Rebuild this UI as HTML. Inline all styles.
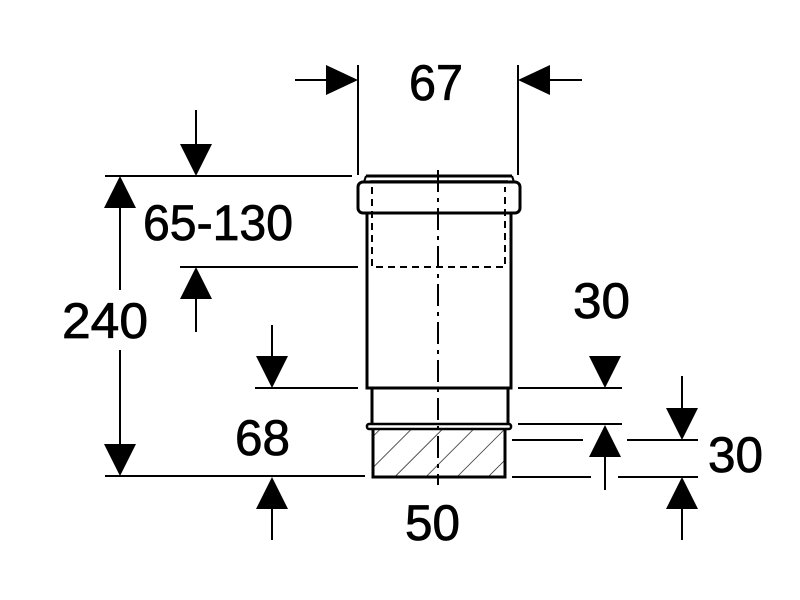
<!DOCTYPE html>
<html><head><meta charset="utf-8"><style>html,body{margin:0;padding:0;background:#fff}svg{display:block}</style></head>
<body>
<svg width="800" height="600" viewBox="0 0 800 600" xmlns="http://www.w3.org/2000/svg">
<defs>
<pattern id="h" width="22" height="22" patternUnits="userSpaceOnUse" patternTransform="rotate(45)">
<line x1="0" y1="0" x2="0" y2="22" stroke="#000" stroke-width="1.3"/>
</pattern>
</defs>
<g stroke="#000" stroke-width="2" fill="none">
<line x1="358" y1="65" x2="358" y2="175"/>
<line x1="518" y1="65" x2="518" y2="175"/>
<line x1="105" y1="176" x2="352" y2="176"/>
<line x1="105" y1="476" x2="365" y2="476"/>
<line x1="180" y1="267" x2="358" y2="267"/>
<line x1="255" y1="388" x2="358" y2="388"/>
<line x1="518" y1="388" x2="622" y2="388"/>
<line x1="518" y1="424" x2="622" y2="424"/>
<line x1="512" y1="440" x2="583" y2="440"/>
<line x1="627" y1="440" x2="698" y2="440"/>
<line x1="512" y1="477" x2="591" y2="477"/>
<line x1="618" y1="477" x2="698" y2="477"/>
<line x1="295" y1="80" x2="330" y2="80"/>
<line x1="546" y1="80" x2="582" y2="80"/>
<line x1="120" y1="200" x2="120" y2="290"/>
<line x1="120" y1="350" x2="120" y2="450"/>
<line x1="196" y1="110" x2="196" y2="150"/>
<line x1="196" y1="295" x2="196" y2="332"/>
<line x1="272" y1="325" x2="272" y2="360"/>
<line x1="272" y1="505" x2="272" y2="540"/>
<line x1="605" y1="455" x2="605" y2="490"/>
<line x1="682" y1="376" x2="682" y2="412"/>
<line x1="682" y1="505" x2="682" y2="540"/>
</g>
<g fill="#000">
<polygon points="358,80 326,65 326,95"/>
<polygon points="518,80 550,65 550,95"/>
<polygon points="120,176 104,208 136,208"/>
<polygon points="120,476 104,444 136,444"/>
<polygon points="196,176 180,144 212,144"/>
<polygon points="196,267 180,299 212,299"/>
<polygon points="272,388 256,356 288,356"/>
<polygon points="272,477 256,509 288,509"/>
<polygon points="605,388 589,356 621,356"/>
<polygon points="605,425 589,457 621,457"/>
<polygon points="682,440 666,408 698,408"/>
<polygon points="682,477 666,509 698,509"/>
</g>
<rect x="373" y="430" width="132" height="47" fill="url(#h)"/>
<g stroke="#000" fill="none">
<path d="M366,176 L512,176" stroke-width="3"/>
<line x1="370" y1="181" x2="508" y2="181" stroke-width="1.5"/>
<rect x="358" y="182" width="162" height="31" rx="5" stroke-width="3" fill="#fff"/>
<line x1="366" y1="176" x2="364" y2="182" stroke-width="2"/>
<line x1="512" y1="176" x2="514" y2="182" stroke-width="2"/>
<path d="M367,213 V388 H511 V213" stroke-width="3"/>
<path d="M372,388 V424 M508,388 V424" stroke-width="3"/>
<rect x="367" y="424" width="144" height="5" rx="2" stroke-width="2.5"/>
<path d="M373,429 V477 H505 V429" stroke-width="3"/>
<path d="M372,187 V267 H505 V187" stroke-width="2" stroke-dasharray="7,5"/>
<line x1="438" y1="170" x2="438" y2="485" stroke-width="2" stroke-dasharray="22,6,4,6"/>
</g>
<g font-family="'Liberation Sans Narrow','Liberation Sans',sans-serif" font-size="50" fill="#000" stroke="#000" stroke-width="0.8">
<text x="409" y="100" textLength="54" lengthAdjust="spacingAndGlyphs">67</text>
<text x="143" y="240" textLength="150" lengthAdjust="spacingAndGlyphs">65-130</text>
<text x="62" y="338" textLength="86" lengthAdjust="spacingAndGlyphs">240</text>
<text x="573" y="318" textLength="57" lengthAdjust="spacingAndGlyphs">30</text>
<text x="235" y="455" textLength="55" lengthAdjust="spacingAndGlyphs">68</text>
<text x="405" y="540" textLength="55" lengthAdjust="spacingAndGlyphs">50</text>
<text x="708" y="472" textLength="55" lengthAdjust="spacingAndGlyphs">30</text>
</g>
</svg>
</body></html>
